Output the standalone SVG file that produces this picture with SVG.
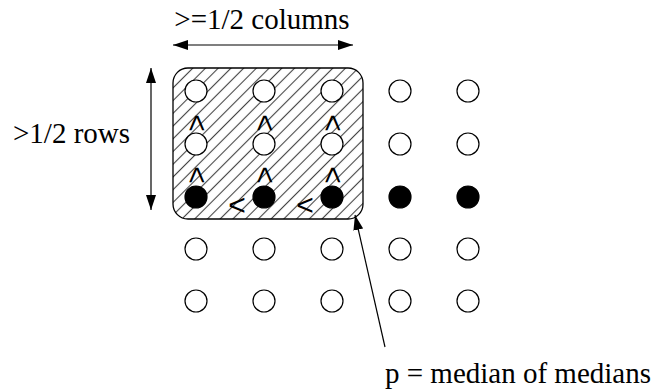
<svg xmlns="http://www.w3.org/2000/svg" width="663" height="391" viewBox="0 0 663 391">
<defs>
<pattern id="hatch" patternUnits="userSpaceOnUse" width="9" height="9" patternTransform="rotate(45)">
<rect width="9" height="9" fill="#fff"/>
<line x1="4.5" y1="0" x2="4.5" y2="9" stroke="#444" stroke-width="1.1"/>
</pattern>
<marker id="ah" markerWidth="16" markerHeight="10" refX="15" refY="5" orient="auto-start-reverse" markerUnits="userSpaceOnUse">
<path d="M0,0 L15,5 L0,10 Z" fill="#000"/>
</marker>
<style>
.t{font-family:"Liberation Serif","Times New Roman",serif;font-size:29px;fill:#000}
.s{font-family:"Liberation Sans",Arial,sans-serif;font-size:30px;fill:#000}
.o{fill:#fff;stroke:#000;stroke-width:1.2}
.f{fill:#000;stroke:#000;stroke-width:1.2}
.c{stroke:#000;stroke-width:1.2;fill:none}
</style>
</defs>
<rect width="663" height="391" fill="#fff"/>
<g id="region">
<rect x="173" y="68" width="190" height="151" rx="15" ry="15" fill="url(#hatch)" stroke="#000" stroke-width="1.3"/>
</g>
<g id="connectors">
<line class="c" x1="173" y1="45" x2="353" y2="45" marker-start="url(#ah)" marker-end="url(#ah)"/>
<line class="c" x1="151" y1="68" x2="151" y2="210" marker-start="url(#ah)" marker-end="url(#ah)"/>
<line class="c" x1="385" y1="347" x2="355" y2="215" marker-end="url(#ah)"/>
</g>
<g id="nodes">
<g id="r1">
<circle class="o" cx="196" cy="91" r="11"/><circle class="o" cx="264" cy="91" r="11"/><circle class="o" cx="332" cy="91" r="11"/><circle class="o" cx="400" cy="91" r="11"/><circle class="o" cx="468" cy="91" r="11"/>
</g>
<g id="r2">
<circle class="o" cx="196" cy="144" r="11"/><circle class="o" cx="264" cy="144" r="11"/><circle class="o" cx="332" cy="144" r="11"/><circle class="o" cx="400" cy="144" r="11"/><circle class="o" cx="468" cy="144" r="11"/>
</g>
<g id="r3">
<circle class="f" cx="196" cy="197" r="11"/><circle class="f" cx="264" cy="197" r="11"/><circle class="f" cx="332" cy="197" r="11"/><circle class="f" cx="400" cy="197" r="11"/><circle class="f" cx="468" cy="197" r="11"/>
</g>
<g id="r4">
<circle class="o" cx="196" cy="249" r="11"/><circle class="o" cx="264" cy="249" r="11"/><circle class="o" cx="332" cy="249" r="11"/><circle class="o" cx="400" cy="249" r="11"/><circle class="o" cx="468" cy="249" r="11"/>
</g>
<g id="r5">
<circle class="o" cx="196" cy="301" r="11"/><circle class="o" cx="264" cy="301" r="11"/><circle class="o" cx="332" cy="301" r="11"/><circle class="o" cx="400" cy="301" r="11"/><circle class="o" cx="468" cy="301" r="11"/>
</g>
<g id="comparisons">
<text class="s" text-anchor="middle" transform="translate(197,123) rotate(90)" dy="10">&lt;</text>
<text class="s" text-anchor="middle" transform="translate(265,123) rotate(90)" dy="10">&lt;</text>
<text class="s" text-anchor="middle" transform="translate(333,123) rotate(90)" dy="10">&lt;</text>
<text class="s" text-anchor="middle" transform="translate(197,175) rotate(90)" dy="10">&lt;</text>
<text class="s" text-anchor="middle" transform="translate(265,175) rotate(90)" dy="10">&lt;</text>
<text class="s" text-anchor="middle" transform="translate(333,175) rotate(90)" dy="10">&lt;</text>
<text class="s" text-anchor="middle" x="237" y="215">&lt;</text>
<text class="s" text-anchor="middle" x="305" y="215">&lt;</text>
</g>
<g id="labels">
<text class="t" x="262" y="29" text-anchor="middle">&gt;=1/2 columns</text>
<text class="t" x="13" y="143">&gt;1/2 rows</text>
<text class="t" x="385" y="383">p = median of medians</text>
</g>
</g>
</svg>
